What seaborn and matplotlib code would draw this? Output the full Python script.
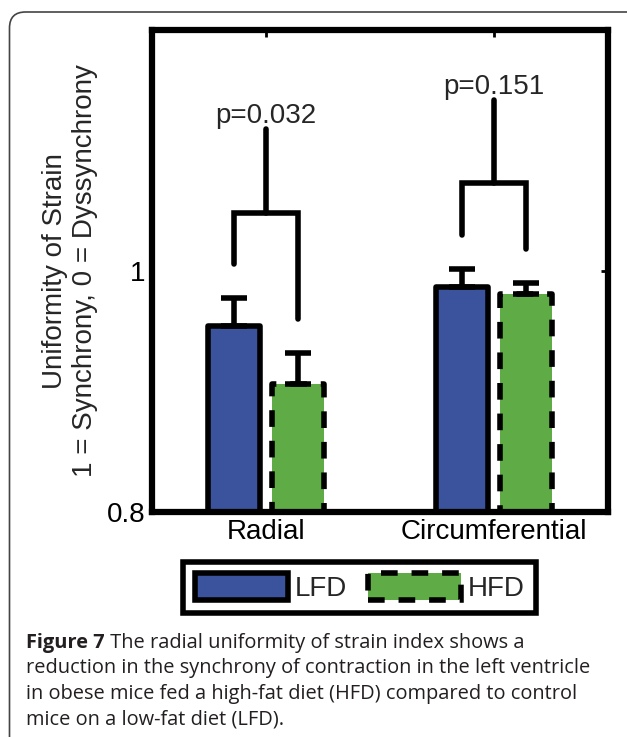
import pandas as pd
import matplotlib
matplotlib.use("Agg")
import matplotlib.pyplot as plt
import matplotlib.patches as mpatches
import seaborn as sns

sns.set_style("white")
plt.rcParams["font.family"] = ["Liberation Sans", "DejaVu Sans"]

# =====================
# DATA
# =====================
regions = ["Radial", "Circumferential"]
diets = ["LFD", "HFD"]
mean_lfd = [0.954, 0.987]
mean_hfd = [0.906, 0.981]
err_lfd = [0.024, 0.015]
err_hfd = [0.026, 0.009]

p_labels = ["p=0.032", "p=0.151"]
leg_lfd_bottom = [1.006, 1.030]
leg_hfd_bottom = [0.960, 1.018]
bracket_level = [1.048, 1.073]
stem_top = [1.118, 1.142]

yticks = [0.8, 1.0]
ytick_labels = ["0.8", "1"]

caption_bold = "Figure 7"
caption_lines = [
    " The radial uniformity of strain index shows a",
    "reduction in the synchrony of contraction in the left ventricle",
    "in obese mice fed a high-fat diet (HFD) compared to control",
    "mice on a low-fat diet (LFD).",
]

BLUE = "#3b539c"
GREEN = "#5fac46"
DASH = (0, (3, 2.5))

df = pd.DataFrame({
    "region": regions * 2,
    "diet": [diets[0]] * 2 + [diets[1]] * 2,
    "value": mean_lfd + mean_hfd,
})

W, H = 627, 737
fig = plt.figure(figsize=(W / 100, H / 100), dpi=100)
ax = fig.add_axes([152 / W, 1 - 512 / H, 456 / W, 482 / H])

sns.barplot(data=df, x="region", y="value", hue="diet", hue_order=diets,
            palette=[BLUE, GREEN], width=0.56, gap=0.18, errorbar=None,
            edgecolor="black", linewidth=4, saturation=1, legend=False, ax=ax)

# bars sorted left to right: LFD/HFD for each region
bars = sorted([p for p in ax.patches if isinstance(p, mpatches.Rectangle)],
              key=lambda p: p.get_x())
errs = [err_lfd, err_hfd]
centers = [[None] * len(regions), [None] * len(regions)]
for i, bar in enumerate(bars):
    k, j = i % 2, i // 2
    x = bar.get_x() + bar.get_width() / 2
    centers[k][j] = x
    bar.set_joinstyle("round")
    if k == 1:
        bar.set_linestyle(DASH)
    ax.errorbar(x, bar.get_height(), yerr=[[0], [errs[k][j]]], fmt="none",
                ecolor="black", elinewidth=4, capsize=9.7, capthick=4, zorder=1)

# significance brackets
for j in range(len(regions)):
    xl, xr = centers[0][j], centers[1][j]
    xm = (xl + xr) / 2
    ax.plot([xl, xl, xr, xr], [leg_lfd_bottom[j], bracket_level[j], bracket_level[j], leg_hfd_bottom[j]],
            color="black", lw=4, solid_joinstyle="miter")
    ax.plot([xm, xm], [bracket_level[j], stem_top[j]], color="black", lw=4)
    ax.text(xm, stem_top[j] + 0.005, p_labels[j], ha="center", va="baseline", fontsize=20)

ax.set_xlim(-0.5, 1.5)
ax.set_ylim(0.8, 1.2)
ax.set_yticks(yticks)
ax.set_yticklabels(ytick_labels)
ax.set_xlabel("")
ax.set_ylabel("Uniformity of Strain\n1 = Synchrony, 0 = Dyssynchrony", fontsize=20, labelpad=6)
ax.tick_params(direction="in", length=5, width=2, top=True, right=True,
               labelsize=20, colors="black", pad=5)
for s in ax.spines.values():
    s.set_visible(True)
    s.set_color("black")
    s.set_linewidth(4.5)

handles = [
    mpatches.Patch(facecolor=BLUE, edgecolor="black", linewidth=4, joinstyle="round", label=diets[0]),
    mpatches.Patch(facecolor=GREEN, edgecolor="black", linewidth=4, linestyle=DASH, label=diets[1]),
]
leg = fig.legend(handles=handles, loc="center", bbox_to_anchor=(359.5 / W, 1 - 587.5 / H),
                 ncol=2, fontsize=20, frameon=True, fancybox=False, framealpha=1,
                 edgecolor="black", handlelength=3.35, handleheight=1.15,
                 handletextpad=0.25, columnspacing=0.75, borderpad=0.4, borderaxespad=0)
leg.get_frame().set_linewidth(4)

# caption box
box = mpatches.FancyBboxPatch((0.095, -0.5), 8.0, 7.25 + 0.5,
                              boxstyle="round,pad=0,rounding_size=0.16",
                              transform=fig.dpi_scale_trans, facecolor="none",
                              edgecolor="#444444", linewidth=1.2, clip_on=False)
fig.add_artist(box)

cap_font = ["Open Sans", "DejaVu Sans"]
cap_color = "#231f20"
cap_size = 14.4
baselines = [648, 673, 699, 725]
x0 = 26 / W
tb = fig.text(x0, 1 - baselines[0] / H, caption_bold, fontsize=cap_size, fontweight="bold",
              family=cap_font, color=cap_color, va="baseline")
renderer = fig.canvas.get_renderer()
bb = tb.get_window_extent(renderer)
fig.text(bb.x1 / W, 1 - baselines[0] / H, caption_lines[0], fontsize=cap_size,
         family=cap_font, color=cap_color, va="baseline")
for line, yb in zip(caption_lines[1:], baselines[1:]):
    fig.text(x0, 1 - yb / H, line, fontsize=cap_size, family=cap_font, color=cap_color,
             va="baseline")

fig.savefig("out.png", dpi=100)
